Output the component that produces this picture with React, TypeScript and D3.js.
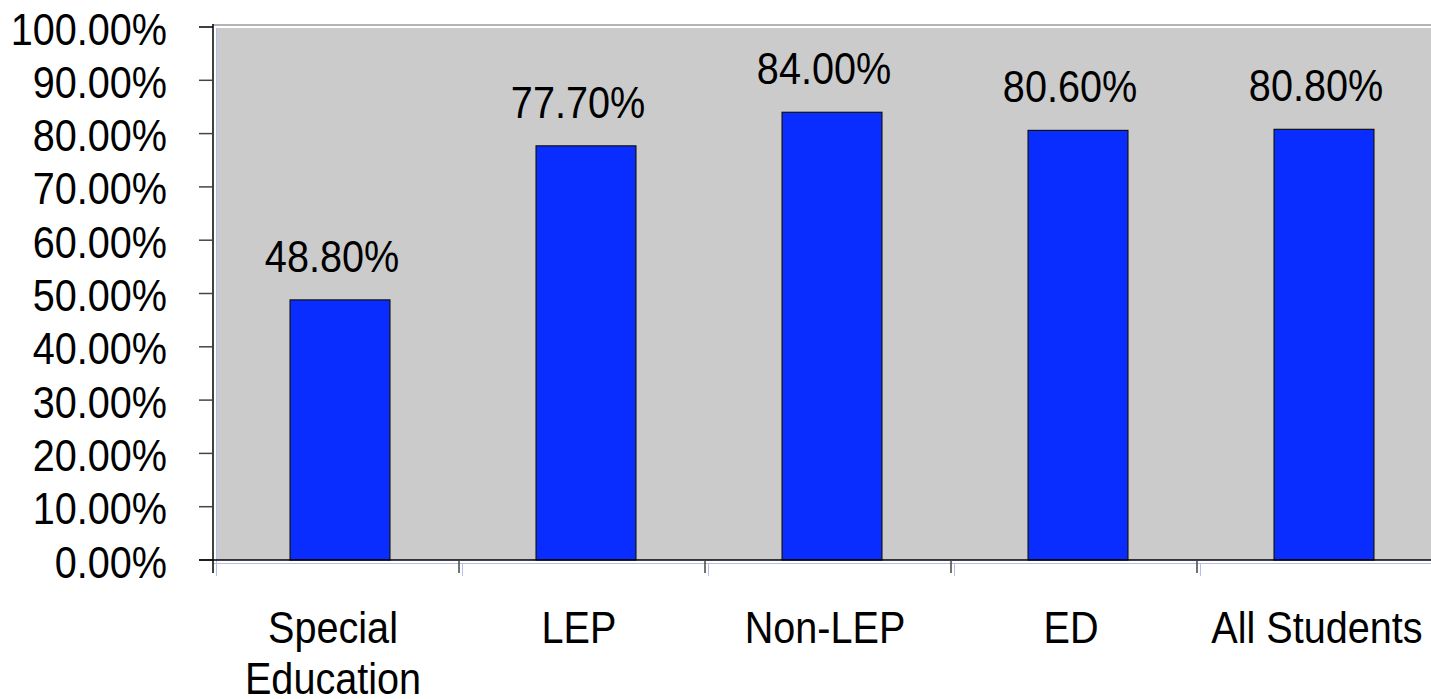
import React, { useRef, useEffect } from 'react';
import * as d3 from 'd3';

const categories: string[][] = [
	['Special', 'Education'],
	['LEP'],
	['Non-LEP'],
	['ED'],
	['All Students'],
];
const values: number[] = [48.8, 77.7, 84.0, 80.6, 80.8];
const yTicks: number[] = [0, 10, 20, 30, 40, 50, 60, 70, 80, 90, 100];

const WIDTH = 1431;
const HEIGHT = 699;
const FONT = '"Liberation Sans", Arial, sans-serif';
const SQUEEZE = 0.88;

const App: React.FC = () => {
	const chartRef = useRef<null | HTMLDivElement>(null);

	useEffect(() => {
		if (!chartRef.current) {
			return;
		}

		d3.select(chartRef.current).selectAll('svg').remove();

		const svg = d3.select(chartRef.current)
			.append('svg')
			.attr('width', WIDTH)
			.attr('height', HEIGHT)
			.style('position', 'absolute')
			.style('left', '0px')
			.style('top', '0px')
			.style('background', '#ffffff');

		const keys = categories.map(c => c.join(' '));

		// scales
		const x = d3.scaleBand<string>()
			.domain(keys)
			.range([217, 217 + 5 * 246])
			.paddingInner(0.594)
			.paddingOuter(0.297);
		const band = d3.scaleBand<string>().domain(keys).range([213, 213 + 5 * 246]);
		const y = d3.scaleLinear().domain([0, 100]).range([560, 27]);

		// plot background
		svg.append('rect')
			.attr('x', 217)
			.attr('y', 28)
			.attr('width', WIDTH - 217)
			.attr('height', y(0) - 28)
			.attr('fill', '#cbcbcb');

		// top border line
		svg.append('line')
			.attr('x1', 213).attr('x2', WIDTH)
			.attr('y1', 25).attr('y2', 25)
			.attr('stroke', '#9a9a9a')
			.attr('stroke-width', 1.5);

		// faint blue guide lines
		svg.append('line')
			.attr('x1', 216.5).attr('x2', 216.5)
			.attr('y1', 28).attr('y2', 576)
			.attr('stroke', '#b4bcf2').attr('stroke-width', 1);
		svg.append('line')
			.attr('x1', 213).attr('x2', WIDTH)
			.attr('y1', 563.5).attr('y2', 563.5)
			.attr('stroke', '#b4bcf2').attr('stroke-width', 1);
		keys.slice(1).forEach(k => {
			const bx = (band(k) as number) + 3.5;
			svg.append('line')
				.attr('x1', bx).attr('x2', bx)
				.attr('y1', 563).attr('y2', 576)
				.attr('stroke', '#b4bcf2').attr('stroke-width', 1);
		});

		// bars
		svg.selectAll('rect.bar')
			.data(values)
			.enter()
			.append('rect')
			.attr('class', 'bar')
			.attr('x', (d, i) => x(keys[i]) as number)
			.attr('y', d => y(d))
			.attr('width', x.bandwidth())
			.attr('height', d => y(0) - y(d))
			.attr('fill', '#0a2dff')
			.attr('stroke', '#111111')
			.attr('stroke-width', 1.2);

		// bar labels
		values.forEach((v, i) => {
			const cx = (x(keys[i]) as number) + x.bandwidth() / 2 - 8;
			svg.append('text')
				.attr('transform', `translate(${cx}, ${y(v) - 28}) scale(${SQUEEZE}, 1)`)
				.attr('text-anchor', 'middle')
				.style('font-family', FONT)
				.style('font-size', '45px')
				.attr('fill', '#000')
				.text(`${v.toFixed(2)}%`);
		});

		// y axis
		svg.append('line')
			.attr('x1', 213).attr('x2', 213)
			.attr('y1', 24).attr('y2', 573)
			.attr('stroke', '#000').attr('stroke-width', 1.5);
		yTicks.forEach(t => {
			svg.append('line')
				.attr('x1', 199).attr('x2', 213)
				.attr('y1', y(t)).attr('y2', y(t))
				.attr('stroke', t === 100 ? '#000' : '#444').attr('stroke-width', 1.5);
			svg.append('text')
				.attr('transform', `translate(167, ${y(t) + 17.5}) scale(${SQUEEZE}, 1)`)
				.attr('text-anchor', 'end')
				.style('font-family', FONT)
				.style('font-size', '45px')
				.attr('fill', '#000')
				.text(`${t.toFixed(2)}%`);
		});

		// x axis
		svg.append('line')
			.attr('x1', 199).attr('x2', WIDTH)
			.attr('y1', y(0)).attr('y2', y(0))
			.attr('stroke', '#000').attr('stroke-width', 1.5);
		keys.slice(1).forEach(k => {
			const bx = band(k) as number;
			svg.append('line')
				.attr('x1', bx).attr('x2', bx)
				.attr('y1', y(0)).attr('y2', 573)
				.attr('stroke', '#444').attr('stroke-width', 1.5);
		});

		// category labels
		categories.forEach((lines, i) => {
			const cx = (band(keys[i]) as number) + band.bandwidth() / 2 - 3;
			lines.forEach((line, j) => {
				svg.append('text')
					.attr('transform', `translate(${cx}, ${643 + j * 51}) scale(${SQUEEZE}, 1)`)
					.attr('text-anchor', 'middle')
					.style('font-family', FONT)
					.style('font-size', '45px')
					.attr('fill', '#000')
					.text(line);
			});
		});
	}, []);

	return <div ref={chartRef}></div>;
};

export default App;
